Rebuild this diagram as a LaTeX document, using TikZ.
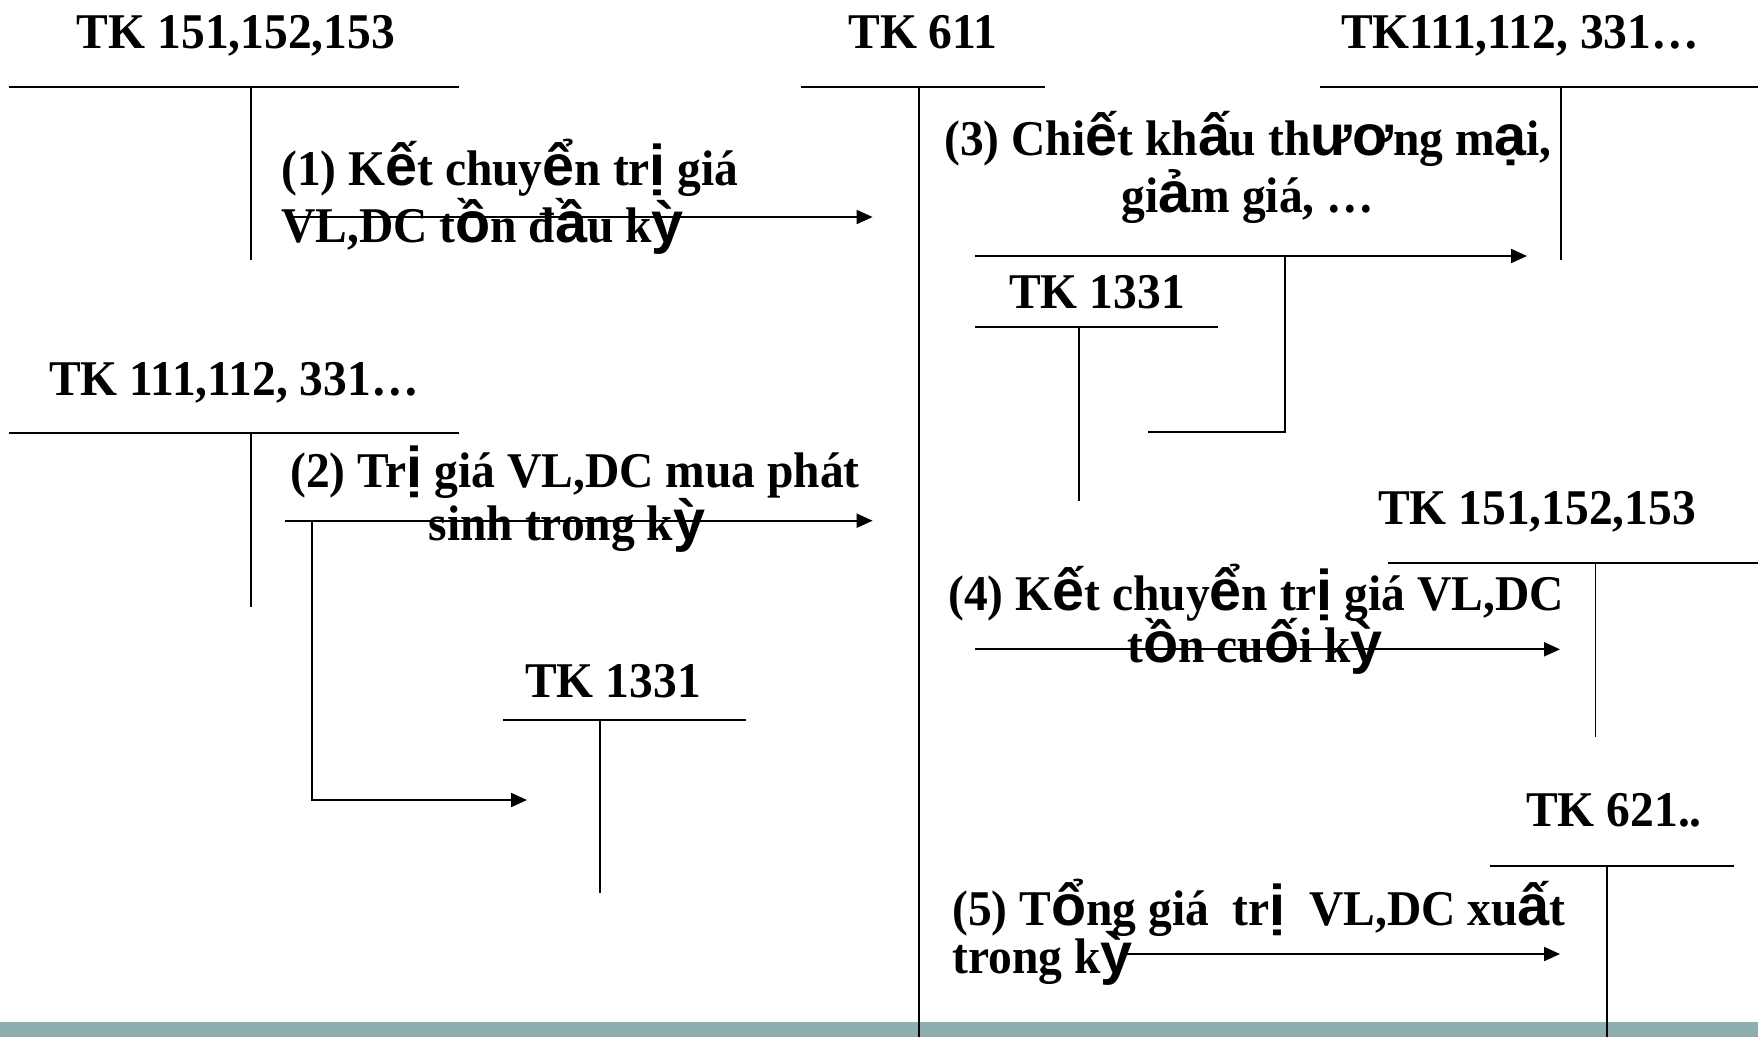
\documentclass[tikz,border=0pt]{standalone}
\usepackage{fontspec}
\setmainfont{Liberation Serif}[FakeStretch=0.95]
\newfontfamily\vnsans{Liberation Sans}[Scale=1.15]
% accented Vietnamese letters are set in the sans face
\newcommand\vs[1]{{\vnsans\bfseries #1}}
\usetikzlibrary{arrows.meta}
\definecolor{barteal}{RGB}{140,174,174}
\begin{document}
\begin{tikzpicture}[x=1pt,y=-1pt,
  txt/.style={inner sep=0pt,font=\fontsize{50}{57}\selectfont\bfseries},
  ledger/.style={line width=2pt},
  stem/.style={line width=1.4pt},
  flow/.style={line width=2pt,-{Triangle[length=16pt,width=14pt]}},
  link/.style={line width=2pt}]
\useasboundingbox (0,0) rectangle (1758,1037);
\fill[barteal] (0,1021.7) rectangle (1758,1037);

% account titles
\node[txt,anchor=base] (t151a) at (236,48) {TK 151,152,153};
\node[txt,anchor=base] (t611) at (923,48) {TK 611};
\node[txt,anchor=base] (t111b) at (1520,48) {TK111,112, 331…};
\node[txt,anchor=base] (t1331b) at (1097,308) {TK 1331};
\node[txt,anchor=base] (t111a) at (234,395) {TK 111,112, 331…};
\node[txt,anchor=base] (t151b) at (1537,524) {TK 151,152,153};
\node[txt,anchor=base] (t1331a) at (613,697) {TK 1331};
\node[txt,anchor=base] (t621) at (1614,826.7) {TK 621..};

% T-accounts
\draw[ledger] (8.6,86.7) -- (459,86.7);   \draw[stem] (251,86.7) -- (251,260);
\draw[ledger] (801,86.7) -- (1045,86.7);  \draw[stem] (919,86.7) -- (919,1037);
\draw[ledger] (1319.5,86.7) -- (1758,86.7); \draw[stem] (1561,86.7) -- (1561,260);
\draw[ledger] (975,327) -- (1217.6,327);  \draw[stem] (1079,327) -- (1079,501);
\draw[ledger] (8.6,432.7) -- (459,432.7); \draw[stem] (251,432.7) -- (251,606.7);
\draw[ledger] (503,720) -- (746,720);     \draw[stem] (600,720) -- (600,893);
\draw[ledger] (1388,562.7) -- (1758,562.7); \draw[stem] (1595.6,562.7) -- (1595.6,736.7);
\draw[ledger] (1490,865.7) -- (1734,865.7); \draw[stem] (1607,865.7) -- (1607,1037);

% entry descriptions
\node[txt,anchor=base west] (d1a) at (281,185) {(1) K\vs{ế}t chuy\vs{ể}n tr\vs{ị} giá};
\node[txt,anchor=base west] (d1b) at (281,242) {VL,DC t\vs{ồ}n đ\vs{ầ}u k\vs{ỳ}};
\node[txt,anchor=base] (d2a) at (575,487) {(2) Tr\vs{ị} giá VL,DC mua phát};
\node[txt,anchor=base] (d2b) at (567,540) {sinh trong k\vs{ỳ}};
\node[txt,anchor=base] (d3a) at (1248,155) {(3) Chi\vs{ế}t kh\vs{ấ}u th\vs{ươ}ng m\vs{ạ}i,};
\node[txt,anchor=base] (d3b) at (1248,212) {gi\vs{ả}m giá, …};
\node[txt,anchor=base] (d4a) at (1256,610) {(4) K\vs{ế}t chuy\vs{ể}n tr\vs{ị} giá VL,DC};
\node[txt,anchor=base] (d4b) at (1255,662) {t\vs{ồ}n cu\vs{ố}i k\vs{ỳ}};
\node[txt,anchor=base west] (d5a) at (952,925) {(5) T\vs{ổ}ng giá\ \ tr\vs{ị}\ \ VL,DC xu\vs{ấ}t};
\node[txt,anchor=base west] (d5b) at (952,973) {trong k\vs{ỳ}};

% arrow end points
\coordinate (a1s) at (287,217);     \coordinate (a1e) at (872.6,217);
\coordinate (a2s) at (285,520.7);   \coordinate (a2e) at (872.6,520.7);
\coordinate (a2k) at (311.7,520.7); \coordinate (a2c) at (311.7,800);
\coordinate (a2t) at (527,800);
\coordinate (a3s) at (975,256);     \coordinate (a3e) at (1527,256);
\coordinate (a3k) at (1285,256);    \coordinate (a3c) at (1285,431.7);
\coordinate (a3t) at (1147.6,431.7);
\coordinate (a4s) at (975,649.3);   \coordinate (a4e) at (1560,649.3);
\coordinate (a5s) at (1126,954);    \coordinate (a5e) at (1560,954);

% entries
\draw[flow] (a1s) -- (a1e);
\draw[flow] (a2s) -- (a2e);
\draw[flow] (a2k) -- (a2c) -- (a2t);
\draw[flow] (a3s) -- (a3e);
\draw[link] (a3k) -- (a3c) -- (a3t);
\draw[flow] (a4s) -- (a4e);
\draw[flow] (a5s) -- (a5e);
\end{tikzpicture}
\end{document}
